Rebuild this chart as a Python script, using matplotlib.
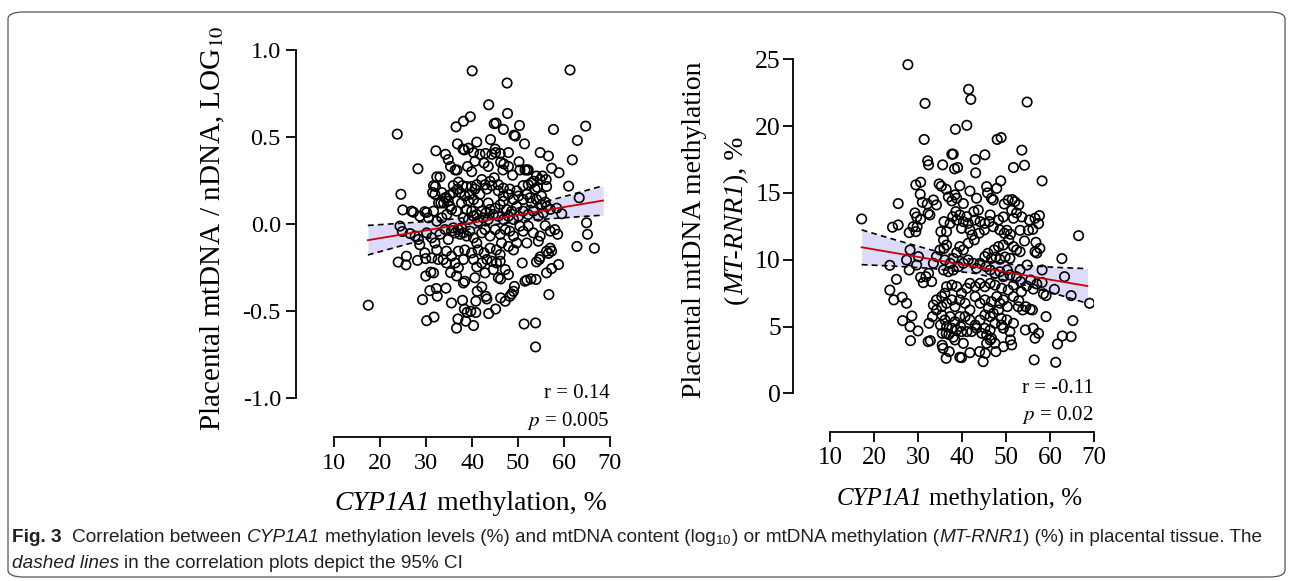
import numpy as np
import matplotlib
matplotlib.use('Agg')
import matplotlib.pyplot as plt
from matplotlib.patches import FancyBboxPatch
from matplotlib.transforms import IdentityTransform

# ---- data ----
# left panel: CYP1A1 methylation (%) vs mtDNA/nDNA (log10)
left_pts = [
    (40.0, 0.88), (61.3, 0.885), (47.6, 0.81), (43.6, 0.685), (47.7, 0.635), (23.7, 0.516),
    (39.6, 0.616), (38.1, 0.59), (36.5, 0.558), (44.8, 0.576), (45.2, 0.58), (46.8, 0.543),
    (50.3, 0.566), (49.1, 0.51), (49.4, 0.505), (51.4, 0.46), (57.7, 0.543), (64.7, 0.562),
    (62.9, 0.48), (61.8, 0.368), (61.0, 0.217), (63.3, 0.15), (58.9, 0.294), (54.8, 0.41),
    (56.6, 0.39), (57.3, 0.32), (32.1, 0.42), (28.2, 0.317), (24.5, 0.17), (24.9, 0.08),
    (36.8, 0.46), (38.0, 0.43), (38.3, 0.425), (39.2, 0.435), (41.0, 0.47), (44.0, 0.485),
    (45.0, 0.43), (45.1, 0.41), (46.1, 0.405), (47.9, 0.41), (40.3, 0.41), (42.9, 0.405),
    (34.2, 0.40), (34.8, 0.37), (35.3, 0.33), (36.3, 0.31), (36.7, 0.31), (39.0, 0.33),
    (40.6, 0.36), (39.9, 0.30), (42.6, 0.35), (46.2, 0.355), (46.9, 0.345), (46.7, 0.31),
    (47.9, 0.33), (48.8, 0.28), (50.2, 0.357), (50.4, 0.31), (51.9, 0.31), (52.2, 0.31),
    (53.3, 0.245), (54.2, 0.21), (56.1, 0.255), (56.2, 0.215), (54.0, 0.275), (55.3, 0.275),
    (32.3, 0.27), (33.0, 0.27), (32.0, 0.215), (33.4, 0.18), (34.4, 0.15), (35.1, 0.165),
    (35.9, 0.22), (37.0, 0.24), (37.9, 0.22), (38.8, 0.215), (39.9, 0.215), (41.0, 0.225),
    (42.1, 0.255), (42.8, 0.225), (43.9, 0.245), (44.8, 0.265), (45.7, 0.225), (46.8, 0.205),
    (48.2, 0.20), (49.7, 0.19), (51.1, 0.22), (52.2, 0.225), (52.9, 0.235), (54.8, 0.255),
    (51.5, 0.31), (44.3, 0.40), (41.7, 0.40), (43.5, 0.33),
    (31.6, 0.22), (31.4, 0.18), (31.9, 0.17), (32.7, 0.12), (33.2, 0.12), (34.1, 0.15),
    (33.8, 0.12), (34.8, 0.13), (35.9, 0.18), (36.8, 0.20), (37.4, 0.18), (38.4, 0.16),
    (39.5, 0.17), (40.6, 0.20), (41.7, 0.17), (43.2, 0.20), (44.3, 0.22), (45.7, 0.19),
    (46.8, 0.16), (47.9, 0.17), (49.0, 0.14), (50.1, 0.16), (51.9, 0.17), (52.6, 0.15),
    (53.7, 0.20), (55.1, 0.16), (55.9, 0.125), (55.1, 0.11), (56.2, 0.10), (58.4, 0.09),
    (59.5, 0.058), (51.1, 0.14), (49.7, 0.10), (48.6, 0.073), (47.5, 0.083), (46.1, 0.11),
    (45.0, 0.09), (43.9, 0.083), (43.0, 0.063), (42.1, 0.073), (41.0, 0.054), (39.9, 0.073),
    (38.8, 0.083), (37.7, 0.12), (36.6, 0.073), (35.5, 0.083), (34.5, 0.054), (33.4, 0.035),
    (32.3, 0.015), (30.5, 0.035), (29.7, 0.07), (30.1, 0.065), (26.8, 0.073), (27.2, 0.067),
    (28.6, 0.044), (31.6, 0.073), (38.1, 0.035), (39.2, 0.025), (40.3, 0.044), (41.3, 0.015),
    (42.4, 0.035), (43.5, 0.025), (44.6, 0.054), (45.7, 0.044), (46.8, 0.025), (47.9, 0.044),
    (49.0, 0.025), (50.1, 0.044), (51.1, 0.073), (52.2, 0.054), (53.3, 0.073), (54.4, 0.044),
    (55.5, 0.063), (57.0, 0.083), (52.9, 0.12), (54.0, 0.14), (46.8, 0.13), (43.5, 0.12),
    (41.3, 0.12), (40.3, 0.14), (39.2, 0.13), (35.2, 0.10),
    (24.3, -0.013), (24.8, -0.044), (26.5, -0.056), (27.6, -0.07), (28.3, -0.09), (28.6, -0.12),
    (30.1, -0.052), (31.2, -0.08), (31.9, -0.11), (32.3, -0.15), (33.0, -0.06), (34.1, -0.033),
    (34.8, -0.09), (35.5, -0.042), (35.9, -0.023), (36.3, -0.052), (37.0, -0.033), (37.4, -0.06),
    (37.7, -0.023), (38.1, -0.052), (38.8, -0.07), (39.5, -0.042), (40.3, -0.08), (41.0, -0.11),
    (42.1, -0.052), (42.8, -0.033), (43.9, -0.07), (45.0, -0.033), (46.1, -0.06), (47.2, -0.033),
    (48.2, -0.042), (49.0, -0.07), (50.4, -0.013), (51.1, -0.042), (52.2, -0.013), (53.3, -0.052),
    (54.8, -0.07), (55.9, -0.01), (57.0, -0.042), (58.0, -0.033), (58.6, -0.06), (64.9, 0.006),
    (65.1, -0.06), (62.8, -0.13), (66.6, -0.14), (57.0, -0.14), (56.2, -0.157), (56.6, -0.17),
    (57.3, -0.157), (54.4, -0.10), (51.9, -0.11), (49.7, -0.11), (47.9, -0.13), (46.4, -0.11),
    (45.3, -0.15), (43.9, -0.14), (42.6, -0.167), (41.3, -0.15), (39.9, -0.167), (38.4, -0.15),
    (37.0, -0.157), (35.5, -0.186), (34.4, -0.157), (33.7, -0.205), (32.6, -0.205), (31.2, -0.196),
    (29.7, -0.167), (29.9, -0.20), (28.1, -0.21), (25.7, -0.186), (25.6, -0.236), (23.9, -0.22),
    (49.0, -0.15), (46.1, -0.177),
    (34.4, -0.225), (35.3, -0.28), (36.3, -0.225), (37.0, -0.253), (38.1, -0.205), (38.4, -0.33),
    (38.1, -0.34), (40.3, -0.205), (41.0, -0.248), (40.6, -0.31), (42.1, -0.225), (43.2, -0.205),
    (44.3, -0.215), (45.3, -0.225), (46.1, -0.215), (46.2, -0.317), (45.7, -0.31), (47.2, -0.263),
    (47.9, -0.292), (50.9, -0.225), (54.0, -0.219), (54.6, -0.205), (54.8, -0.19), (57.3, -0.257),
    (56.2, -0.282), (58.8, -0.234), (52.8, -0.317), (53.9, -0.32), (51.5, -0.33), (51.9, -0.324),
    (29.9, -0.30), (31.0, -0.278), (31.6, -0.282), (30.8, -0.384), (32.2, -0.372), (34.3, -0.37),
    (42.1, -0.363), (41.1, -0.388), (49.0, -0.388), (49.2, -0.36), (44.6, -0.263), (42.8, -0.282),
    (36.6, -0.30),
    (32.4, -0.416), (29.2, -0.436), (35.5, -0.455), (37.9, -0.44), (40.8, -0.445), (43.0, -0.417),
    (43.2, -0.432), (47.2, -0.445), (46.2, -0.426), (48.2, -0.417), (48.6, -0.403), (56.7, -0.407),
    (38.3, -0.49), (38.9, -0.509), (39.7, -0.503), (43.6, -0.516), (45.1, -0.49), (40.8, -0.51),
    (36.9, -0.547), (38.6, -0.56), (36.6, -0.60), (40.3, -0.585), (30.1, -0.557), (31.7, -0.536),
    (51.3, -0.576), (53.8, -0.57), (53.8, -0.708), (17.4, -0.468),
]
left_x = [p[0] for p in left_pts]
left_y = [p[1] for p in left_pts]

# regression line and 95% CI
left_fit_x = [17.3, 25, 33, 43, 53, 61, 68.5]
left_fit_y = [-0.094, -0.060, -0.024, 0.020, 0.065, 0.101, 0.134]
left_ci_hi = [-0.009, 0.004, 0.019, 0.050, 0.108, 0.164, 0.219]
left_ci_lo = [-0.179, -0.123, -0.067, -0.010, 0.022, 0.037, 0.050]

# right panel: CYP1A1 methylation (%) vs MT-RNR1 methylation (%)
right_pts = [
    (27.7, 24.6), (41.5, 22.75), (42.0, 22.0), (31.6, 21.7), (54.8, 21.8), (41.1, 20.06),
    (38.5, 19.76), (31.4, 19.0), (48.0, 19.0), (48.9, 19.14), (53.6, 18.2), (54.2, 17.07),
    (45.2, 17.85), (43.0, 17.5), (37.7, 17.9), (38.0, 17.9), (35.6, 17.1), (32.2, 17.4),
    (32.4, 17.1), (38.3, 16.8), (39.0, 16.9), (43.1, 16.5), (51.7, 16.9), (58.2, 15.9),
    (48.8, 15.9), (29.5, 15.6), (30.6, 15.8), (34.8, 15.67), (35.3, 15.5), (36.4, 15.27),
    (39.5, 15.54), (41.8, 15.14), (45.6, 15.47), (45.8, 15.0), (47.9, 15.34), (25.5, 14.2),
    (30.5, 14.9), (31.0, 14.3), (32.1, 14.17), (33.5, 14.47), (34.2, 14.1), (36.9, 14.7),
    (37.7, 14.4), (38.4, 14.85), (38.8, 14.6), (40.3, 14.2), (43.3, 14.6), (46.7, 14.6),
    (47.1, 14.47), (49.6, 14.17), (50.5, 14.47), (51.4, 14.5), (52.0, 14.35), (52.9, 14.1),
    (51.7, 13.1), (51.3, 13.7), (55.3, 12.97), (56.6, 13.1), (57.6, 13.3), (57.4, 12.7),
    (53.2, 12.2), (55.1, 12.2), (56.1, 12.27), (54.2, 11.4), (56.8, 11.3), (56.6, 10.6),
    (57.0, 10.5), (57.7, 10.85), (66.5, 11.8), (62.7, 10.08), (63.3, 8.73), (64.8, 7.31),
    (65.2, 5.44), (64.8, 4.24), (62.8, 4.29), (61.7, 3.69), (61.3, 2.32), (56.4, 2.5),
    (69.0, 6.74), (61.0, 7.78), (59.1, 7.31), (58.5, 7.45), (59.1, 5.74), (57.0, 8.18),
    (58.2, 8.3), (55.6, 8.48), (56.2, 7.8), (54.7, 8.03), (54.8, 9.6), (53.2, 10.6),
    (52.4, 10.73), (51.7, 10.98), (50.9, 10.1), (49.8, 10.2), (48.6, 10.03), (47.7, 10.2),
    (47.3, 10.73), (46.7, 10.1), (48.3, 10.98), (49.4, 11.1), (49.6, 11.98), (50.2, 12.2),
    (51.0, 11.9), (52.4, 8.73), (53.3, 8.36), (53.5, 7.6), (52.8, 6.48), (53.8, 6.24),
    (54.5, 6.48), (55.5, 6.29), (56.0, 6.24), (54.4, 4.74), (56.2, 4.87), (56.6, 4.12),
    (57.4, 4.49), (51.7, 5.24), (50.9, 4.62), (49.4, 4.87), (50.2, 5.49), (51.0, 4.0),
    (51.3, 3.62), (49.0, 5.11), (48.9, 5.61), (49.4, 3.49), (47.7, 3.12), (47.5, 3.74),
    (46.7, 4.12), (45.6, 4.37), (44.5, 4.49), (45.3, 2.99), (44.8, 2.37), (44.0, 3.12),
    (42.2, 4.62), (41.8, 3.04), (39.9, 2.67), (39.5, 2.7), (40.3, 3.74), (39.9, 4.62),
    (39.7, 4.99), (38.4, 3.99), (38.0, 4.2), (37.1, 3.12), (36.4, 2.62), (35.7, 3.37),
    (35.5, 3.6), (35.5, 4.49), (36.4, 4.49), (37.0, 4.4), (35.1, 5.11), (33.3, 5.74),
    (32.5, 5.24), (32.8, 3.94), (32.3, 3.87), (30.0, 4.67), (28.3, 3.94), (28.2, 4.99),
    (26.5, 5.44), (28.6, 5.79), (27.4, 6.74), (26.4, 7.19), (24.5, 6.99), (23.6, 7.73),
    (25.1, 8.53), (23.6, 9.58), (24.2, 12.43), (25.5, 12.6), (17.2, 13.05), (28.0, 12.03),
    (29.5, 12.1), (29.8, 12.47), (28.9, 12.47), (29.7, 13.2), (29.3, 13.5), (30.6, 13.02),
    (32.3, 13.47), (32.7, 13.35), (27.4, 9.98), (28.2, 10.73), (28.0, 9.23), (29.7, 9.6),
    (30.1, 10.23), (30.6, 8.68), (31.2, 8.28), (31.8, 8.73), (32.4, 8.98), (33.1, 8.36),
    (33.5, 9.73), (34.2, 10.23), (35.0, 10.73), (35.9, 10.85), (36.5, 11.1), (35.8, 11.48),
    (36.5, 12.1), (35.2, 12.1), (35.9, 12.85), (37.3, 12.72), (37.9, 13.22), (38.6, 13.6),
    (38.8, 12.97), (39.5, 13.35), (40.3, 12.85), (39.9, 12.35), (41.1, 13.22), (41.4, 12.72),
    (41.8, 12.23), (42.3, 11.85), (42.9, 12.97), (42.7, 13.6), (43.7, 13.72), (44.1, 12.85),
    (45.2, 12.72), (46.4, 13.35), (46.2, 12.85), (45.1, 12.23), (43.9, 11.98), (42.8, 11.48),
    (41.4, 11.23), (40.3, 10.73), (39.5, 10.98), (38.8, 10.53), (38.0, 10.1), (37.3, 9.73),
    (36.1, 9.98), (35.8, 9.23), (36.9, 9.1), (38.0, 9.23), (39.2, 9.48), (40.3, 9.73),
    (41.4, 9.98), (42.6, 9.73), (43.3, 9.36), (44.1, 9.73), (45.2, 10.23), (45.9, 10.48),
    (45.5, 9.48), (46.4, 9.23), (47.5, 8.98), (48.6, 9.1), (49.4, 8.73), (50.3, 9.23),
    (50.9, 8.86), (51.7, 8.1), (50.5, 7.73), (49.0, 7.86), (47.5, 8.1), (46.4, 8.23),
    (45.2, 7.98), (44.1, 8.23), (43.0, 7.98), (41.8, 8.23), (41.1, 7.86), (39.9, 7.49),
    (38.8, 7.98), (37.7, 8.1), (36.5, 7.98), (36.1, 7.49), (35.4, 7.24), (34.2, 6.99),
    (33.5, 6.61), (34.2, 6.24), (35.4, 6.49), (36.5, 6.74), (37.7, 6.99), (38.4, 6.49),
    (39.5, 6.99), (40.7, 6.74), (41.8, 6.24), (43.0, 7.24), (44.1, 6.74), (45.2, 6.99),
    (46.0, 6.36), (46.7, 6.86), (47.9, 7.24), (48.6, 6.74), (49.4, 6.99), (48.3, 6.24),
    (47.1, 5.99), (46.4, 5.74), (45.2, 5.86), (44.1, 5.49), (43.0, 5.11), (41.8, 5.49),
    (40.7, 5.74), (39.5, 5.74), (38.4, 5.36), (37.3, 5.74), (36.1, 5.49), (35.4, 5.86),
    (36.5, 4.99), (37.7, 4.87), (38.8, 4.74), (41.1, 4.62), (43.3, 4.87), (45.2, 4.87),
    (46.4, 4.74), (47.5, 5.24), (45.6, 3.74), (46.4, 3.99), (52.9, 6.94), (51.7, 7.24),
    (50.3, 6.49), (52.4, 13.5), (49.4, 13.2), (48.3, 12.97), (47.1, 12.47), (48.6, 12.23),
    (53.6, 13.2), (50.6, 11.48), (53.2, 9.23), (58.2, 9.23),
]
right_x = [p[0] for p in right_pts]
right_y = [p[1] for p in right_pts]

right_fit_x = [17.2, 25, 33, 43, 53, 61, 68.5]
right_fit_y = [10.93, 10.49, 10.04, 9.47, 8.91, 8.45, 8.03]
right_ci_hi = [12.23, 11.47, 10.73, 9.97, 9.60, 9.43, 9.33]
right_ci_lo = [9.63, 9.51, 9.35, 8.97, 8.22, 7.47, 6.73]

x_ticks = [10, 20, 30, 40, 50, 60, 70]
left_yticks = [-1.0, -0.5, 0.0, 0.5, 1.0]
right_yticks = [0, 5, 10, 15, 20, 25]

# ---- style ----
SERIF = 'Liberation Serif'
SANS = 'Liberation Sans'
plt.rcParams['font.family'] = [SERIF, 'DejaVu Serif']
plt.rcParams['mathtext.fontset'] = 'stix'
plt.rcParams['mathtext.rm'] = SANS
plt.rcParams['mathtext.it'] = SANS + ':italic'
plt.rcParams['mathtext.bf'] = SANS + ':bold'
plt.rcParams['axes.unicode_minus'] = False

W, H = 1295, 581
fig = plt.figure(figsize=(W / 100, H / 100), dpi=100)
renderer = fig.canvas.get_renderer()


def px_axes(x0, x1, y_top, y_bot):
    return [x0 / W, (H - y_bot) / H, (x1 - x0) / W, (y_bot - y_top) / H]


def seg_width(s, size, family, style, weight, mff):
    t = fig.text(0, 0, s, fontsize=size, family=family, style=style, weight=weight,
                 math_fontfamily=mff)
    w = t.get_window_extent(renderer).width
    t.remove()
    return w


def rich(x, y, segs, size, rot=0, family=SERIF, mff='stix', ha='center', color='black',
         draw=True):
    """segments laid out along a line; (x, y) = pixels from top-left,
    centre (or start) along the line and baseline across it"""
    widths = []
    for s, st, wt in segs:
        if s == ' ':
            w = (seg_width('x x', size, family, st, wt, mff)
                 - seg_width('xx', size, family, st, wt, mff))
        else:
            w = seg_width(s, size, family, st, wt, mff)
        widths.append(w)
    total = sum(widths)
    if not draw:
        return total
    if rot == 0:
        pos = x - total / 2 if ha == 'center' else x
    else:
        yb = H - y
        pos = yb - total / 2 if ha == 'center' else yb
    for (s, st, wt), w in zip(segs, widths):
        if s != ' ':
            xy = (pos, H - y) if rot == 0 else (x, pos)
            fig.text(xy[0], xy[1], s, transform=IdentityTransform(), fontsize=size,
                     family=family, style=st, weight=wt, math_fontfamily=mff, color=color,
                     rotation=rot, rotation_mode='anchor', ha='left', va='baseline')
        pos += w
    return total


def style(ax, yticks, yfmt, ylim, offs):
    ax.set_xlim(10, 70)
    ax.set_ylim(*ylim)
    for s in ['top', 'right']:
        ax.spines[s].set_visible(False)
    for s in ['left', 'bottom']:
        ax.spines[s].set_linewidth(1.3)
    # offsets in points (px * 0.72)
    ax.spines['left'].set_position(('outward', offs[0] * 0.72))
    ax.spines['bottom'].set_position(('outward', offs[1] * 0.72))
    ax.set_xticks(x_ticks)
    ax.set_yticks(yticks)
    ax.set_yticklabels([yfmt.format(v) for v in yticks])
    ax.tick_params(axis='both', direction='out', length=7.3, width=1.3, color='black')


def panel(ax, xs, ys, fx, fy, lo, hi):
    ax.fill_between(fx, lo, hi, color='#dcdcfa', lw=0, zorder=1)
    ax.plot(fx, hi, color='black', ls=(0, (3.5, 2.5)), lw=1.2, zorder=2)
    ax.plot(fx, lo, color='black', ls=(0, (3.5, 2.5)), lw=1.2, zorder=2)
    ax.plot(fx, fy, color='#cc0000', lw=1.3, zorder=4)
    ax.scatter(xs, ys, s=46, facecolors='none', edgecolors='black', linewidths=1.2, zorder=3)


ax1 = fig.add_axes(px_axes(334.3, 610, 50, 397.7))
panel(ax1, left_x, left_y, left_fit_x, left_fit_y, left_ci_lo, left_ci_hi)
style(ax1, left_yticks, '{:.1f}', (-1.0, 1.0), (38.6, 39))
ax1.tick_params(axis='x', labelsize=17.5, pad=4.3)
ax1.tick_params(axis='y', labelsize=17.5, pad=3.3)
ax1.text(1.0, 0.0, 'r = 0.14', transform=ax1.transAxes, ha='right', va='baseline', fontsize=15)
ax1.text(1.0, -0.08, r'$\it{p}$ = 0.005', transform=ax1.transAxes, ha='right', va='baseline',
         fontsize=15)

ax2 = fig.add_axes(px_axes(830, 1094, 59.3, 393.3))
panel(ax2, right_x, right_y, right_fit_x, right_fit_y, right_ci_lo, right_ci_hi)
style(ax2, right_yticks, '{:d}', (0, 25), (37.3, 38.4))
ax2.tick_params(axis='x', labelsize=18, pad=4)
ax2.tick_params(axis='y', labelsize=18.5, pad=1.2)
ax2.text(1.0, 0.0, 'r = -0.11', transform=ax2.transAxes, ha='right', va='baseline', fontsize=15)
ax2.text(1.0, -0.08, r'$\it{p}$ = 0.02', transform=ax2.transAxes, ha='right', va='baseline',
         fontsize=15)

N, I, B = 'normal', 'italic', 'bold'
# axis titles
rich(220, 228, [('Placental mtDNA / nDNA, LOG$_{\\mathrm{10}}$', N, N)], 21, rot=90)
rich(470.7, 510, [('CYP1A1', I, N), (' ', N, N), ('methylation, %', N, N)], 20)
rich(701, 230, [('Placental mtDNA methylation', N, N)], 20, rot=90)
rich(743, 220, [('(', N, N), ('MT-RNR1', I, N), ('), %', N, N)], 20, rot=90)
rich(959, 505, [('CYP1A1', I, N), (' ', N, N), ('methylation, %', N, N)], 18)

# caption
line1 = [('Fig. 3', N, B), (' ', N, N), (' ', N, N), ('Correlation between', N, N), (' ', N, N),
         ('CYP1A1', I, N), (' ', N, N),
         ('methylation levels (%) and mtDNA content (log', N, N), ('$_{\\mathrm{10}}$', N, N),
         (') or mtDNA methylation (', N, N),
         ('MT-RNR1', I, N), (') (%) in placental tissue. The', N, N)]
line2 = [('dashed lines', I, N), (' ', N, N), ('in the correlation plots depict the 95% CI', N, N)]
cap_col = '#231f20'
# fit the first caption line to the width it has in the figure
probe = rich(0, 0, line1, 12, family=SANS, mff='custom', draw=False)
cap_size = 12 * 1262 / probe
rich(12, 542, line1, cap_size, family=SANS, mff='custom', ha='left', color=cap_col)
rich(12, 568, line2, cap_size, family=SANS, mff='custom', ha='left', color=cap_col)

box = FancyBboxPatch((8 / W, 4 / H), 1277 / W, 565 / H,
                     boxstyle='round,pad=0,rounding_size=0.012', transform=fig.transFigure,
                     fill=False, edgecolor='#555555', lw=0.9)
fig.patches.append(box)

fig.savefig('out.png', dpi=100)
